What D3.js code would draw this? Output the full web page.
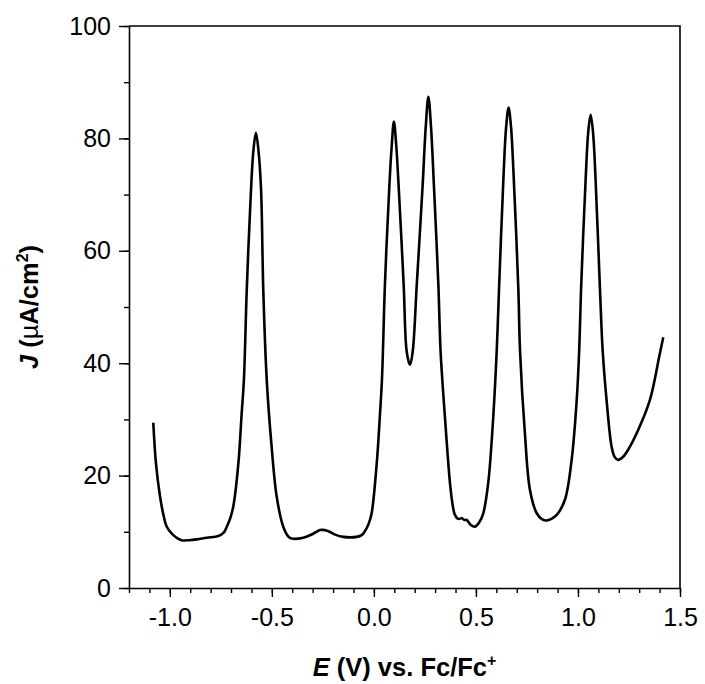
<!DOCTYPE html>
<html>
<head>
<meta charset="utf-8">
<script src="https://cdn.jsdelivr.net/npm/d3@7"></script>
<style>
  html, body { margin: 0; padding: 0; background: #fff; }
  svg text { font-family: "Liberation Sans", Arial, sans-serif; fill: #000; }
</style>
</head>
<body>
<svg id="chart" width="705" height="684"></svg>
<script>
// Potential E (V vs Fc/Fc+)
const potential = [
  -1.081, -1.068, -1.048, -1.030, -1.015, -0.983, -0.960, -0.942, -0.905, -0.868,
  -0.819, -0.762, -0.735, -0.721, -0.705, -0.689, -0.664, -0.648, -0.637, -0.623,
  -0.602, -0.590, -0.578, -0.566, -0.553, -0.542, -0.525, -0.501, -0.476, -0.444,
  -0.420, -0.403, -0.346, -0.300, -0.264, -0.240, -0.223, -0.190, -0.150, -0.084,
  -0.060, -0.044, -0.025, -0.011, 0.014, 0.030, 0.040, 0.054, 0.076, 0.088,
  0.098, 0.109, 0.121, 0.146, 0.161, 0.177, 0.190, 0.210, 0.239, 0.254,
  0.267, 0.280, 0.294, 0.316, 0.327, 0.348, 0.373, 0.385, 0.397, 0.413,
  0.430, 0.445, 0.455, 0.475, 0.495, 0.515, 0.536, 0.560, 0.585, 0.602,
  0.613, 0.636, 0.648, 0.660, 0.672, 0.684, 0.708, 0.716, 0.740, 0.765,
  0.798, 0.825, 0.847, 0.870, 0.896, 0.936, 0.969, 0.994, 1.006, 1.015,
  1.038, 1.050, 1.062, 1.074, 1.086, 1.108, 1.121, 1.140, 1.165, 1.180,
  1.197, 1.220, 1.246, 1.295, 1.353, 1.400, 1.418
];
// Current density J (uA/cm2)
const current = [
  29.4, 22.2, 16.3, 12.8, 10.9, 9.4, 8.8, 8.5, 8.5, 8.65,
  8.95, 9.25, 9.9, 10.9, 12.3, 14.5, 22.2, 31, 37, 53,
  71, 78, 81, 78, 71, 53, 37, 25.1, 16.2, 10.9,
  9.2, 8.8, 8.95, 9.6, 10.3, 10.3, 10.1, 9.5, 9.1, 9.1,
  9.4, 10.1, 11.5, 13.3, 22.2, 31, 37.5, 53.9, 71.7, 79,
  83, 79, 71.7, 53.9, 42, 39.7, 42, 53.9, 71.7, 82,
  87.4, 82, 71.7, 53.9, 42, 30.5, 18.6, 15, 13, 12.3,
  12.4, 12.1, 12.1, 11.2, 10.9, 11.6, 13.3, 18.6, 30.5, 42.3,
  53, 74, 82, 85.5, 82, 74, 53, 42.3, 27.5, 17.4,
  13.3, 12.2, 12.0, 12.3, 13.0, 15.7, 22.8, 33.5, 42.3, 53,
  73, 81, 84.2, 81, 73, 53, 42.3, 33.5, 25.1, 23.3,
  22.8, 23.3, 24.6, 28.1, 33.5, 41.5, 44.6
];
const xTicks = [-1.0, -0.5, 0.0, 0.5, 1.0, 1.5];
const xTickLabels = ["-1.0", "-0.5", "0.0", "0.5", "1.0", "1.5"];
const yTicks = [0, 20, 40, 60, 80, 100];
const yTickLabels = ["0", "20", "40", "60", "80", "100"];
const xMinor = d3.range(-12, 16).map(i => i / 10);
const yMinor = d3.range(0, 101, 10);

const margin = { left: 129, right: 25, top: 26, bottom: 96 };
const W = 705, H = 684;
const svg = d3.select("#chart");

const x = d3.scaleLinear().domain([-1.2, 1.5]).range([margin.left, W - margin.right]);
const y = d3.scaleLinear().domain([0, 100]).range([H - margin.bottom, margin.top]);

// frame (top and right)
svg.append("path")
  .attr("d", `M${x(-1.2)},${y(100)}H${x(1.5)}V${y(0)}`)
  .attr("fill", "none").attr("stroke", "#000").attr("stroke-width", 1.6);

// minor ticks
svg.append("g").attr("transform", `translate(0,${y(0)})`)
  .call(d3.axisBottom(x).tickValues(xMinor).tickSize(5).tickFormat(""))
  .call(g => g.select(".domain").remove())
  .call(g => g.selectAll("line").attr("stroke-width", 1.4));
svg.append("g").attr("transform", `translate(${x(-1.2)},0)`)
  .call(d3.axisLeft(y).tickValues(yMinor).tickSize(5).tickFormat(""))
  .call(g => g.select(".domain").remove())
  .call(g => g.selectAll("line").attr("stroke-width", 1.4));

// major axes
const xAxis = svg.append("g").attr("transform", `translate(0,${y(0)})`)
  .call(d3.axisBottom(x).tickValues(xTicks).tickSize(9).tickSizeOuter(0).tickPadding(11)
    .tickFormat((d, i) => xTickLabels[i]));
xAxis.select(".domain").attr("stroke-width", 1.6);
xAxis.selectAll("line").attr("stroke-width", 1.4);
xAxis.selectAll("text").attr("font-size", 25).attr("font-family", "Liberation Sans, Arial, sans-serif");

const yAxis = svg.append("g").attr("transform", `translate(${x(-1.2)},0)`)
  .call(d3.axisLeft(y).tickValues(yTicks).tickSize(10).tickSizeOuter(0).tickPadding(8)
    .tickFormat((d, i) => yTickLabels[i]));
yAxis.select(".domain").attr("stroke-width", 1.6);
yAxis.selectAll("line").attr("stroke-width", 1.4);
yAxis.selectAll("text").attr("font-size", 25).attr("font-family", "Liberation Sans, Arial, sans-serif");

// curve
const data = potential.map((e, i) => ({ e, j: current[i] }));
svg.append("path")
  .datum(data)
  .attr("fill", "none")
  .attr("stroke", "#000")
  .attr("stroke-width", 2.6)
  .attr("stroke-linejoin", "round")
  .attr("d", d3.line().x(d => x(d.e)).y(d => y(d.j)).curve(d3.curveCatmullRom.alpha(0.5)));

// x title
const xt = svg.append("text")
  .attr("x", (x(-1.2) + x(1.5)) / 2).attr("y", 676)
  .attr("text-anchor", "middle").attr("font-size", 25.5).attr("font-weight", "bold");
xt.append("tspan").attr("font-style", "italic").text("E");
xt.append("tspan").text(" (V) vs. Fc/Fc");
xt.append("tspan").attr("font-size", 16).attr("dy", -10).text("+");

// y title
const yt = svg.append("text")
  .attr("transform", `translate(38,${(y(0) + y(100)) / 2}) rotate(-90)`)
  .attr("text-anchor", "middle").attr("font-size", 25.5).attr("font-weight", "bold");
yt.append("tspan").attr("font-style", "italic").text("J");
yt.append("tspan").text(" (");
yt.append("tspan").attr("font-weight", "normal").text("\u00B5");
yt.append("tspan").text("A/cm");
yt.append("tspan").attr("font-size", 16).attr("dy", -10).text("2");
yt.append("tspan").attr("dy", 10).text(")");
</script>
</body>
</html>
